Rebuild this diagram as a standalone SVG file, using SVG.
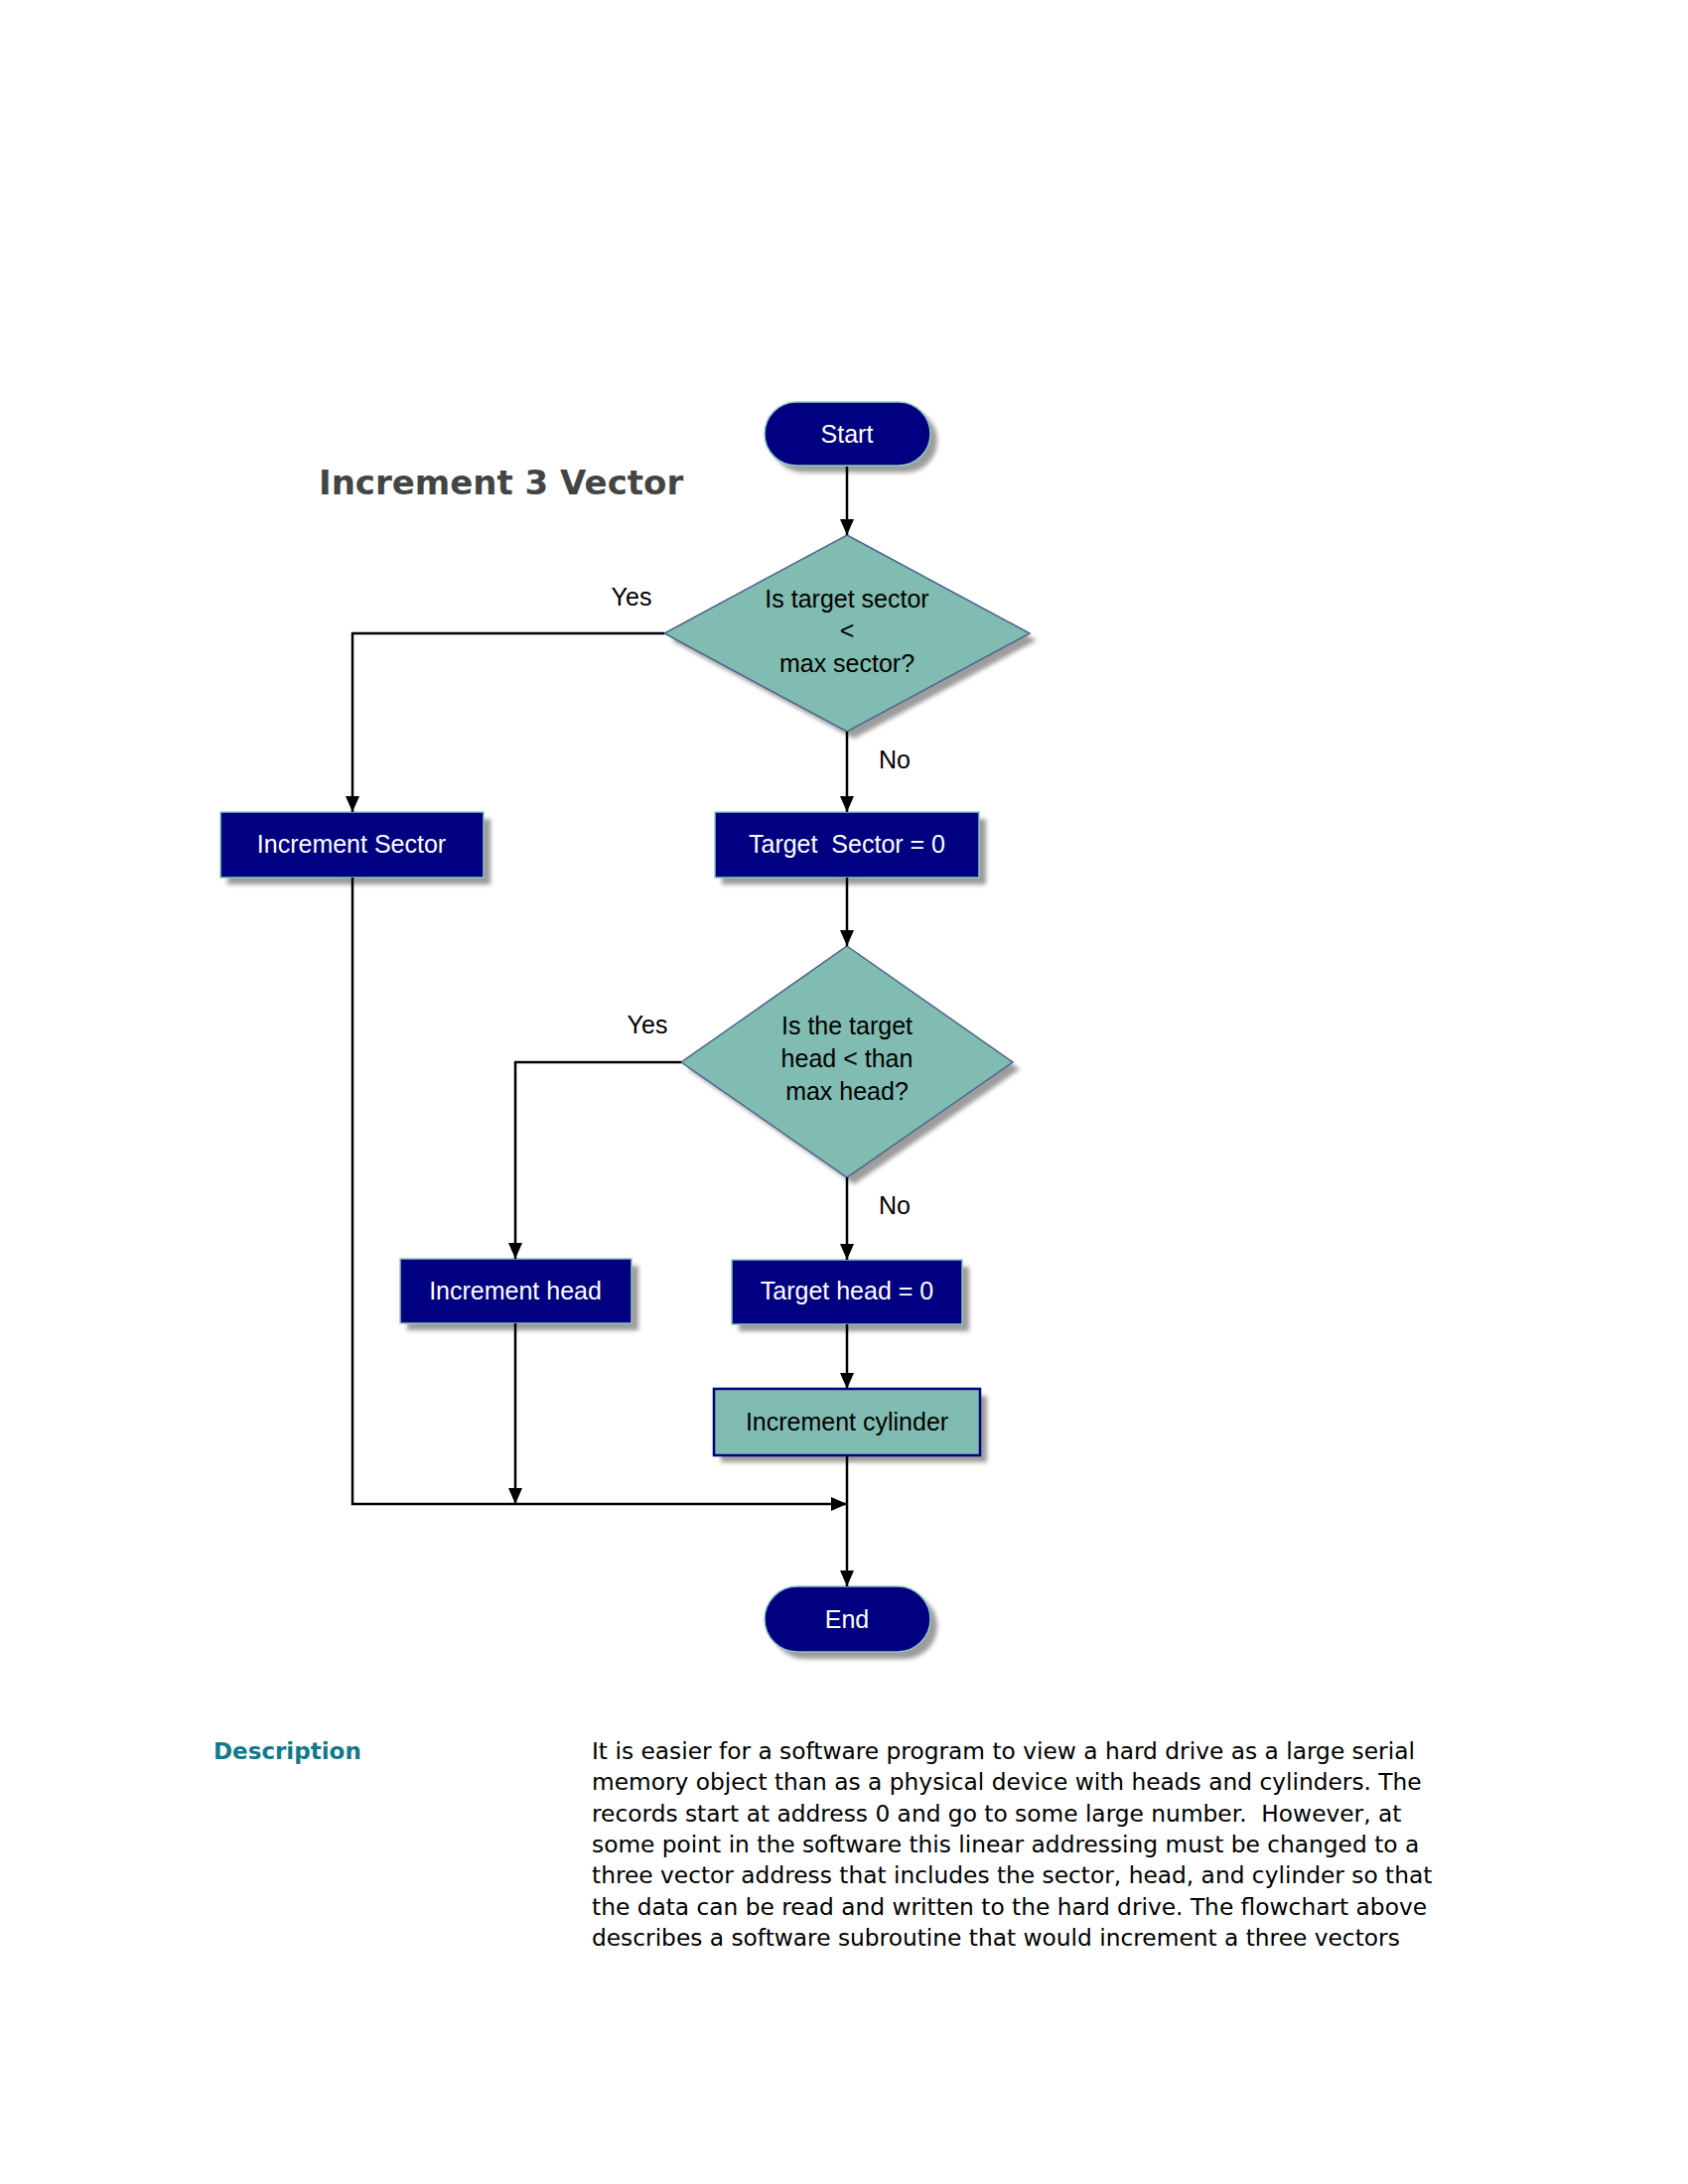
<svg xmlns="http://www.w3.org/2000/svg" width="1700" height="2200" viewBox="0 0 1700 2200">
<defs>
<filter id="blur" x="-10%" y="-10%" width="130%" height="140%"><feGaussianBlur stdDeviation="2.2"/></filter>
<marker id="arr" viewBox="0 0 16 14" refX="16" refY="7" markerWidth="16" markerHeight="14" markerUnits="userSpaceOnUse" orient="auto"><path d="M0,0 L16,7 L0,14 z" fill="#000"/></marker>
</defs>
<style>
.shadow{fill:#9c9c9c;filter:url(#blur)}
.navy{fill:#000080;stroke:#8cc8c0;stroke-width:1.5}
.teal{fill:#80bcb1;stroke:#4d6590;stroke-width:1.5}
.tealbox{fill:#80bcb1;stroke:#00007a;stroke-width:2.5}
.wt{font-family:"Liberation Sans",Arial,sans-serif;font-size:25px;fill:#fff;text-anchor:middle}
.bt{font-family:"Liberation Sans",Arial,sans-serif;font-size:25px;fill:#000;text-anchor:middle}
.lbl{font-family:"Liberation Sans",Arial,sans-serif;font-size:25px;fill:#000;text-anchor:middle}
.conn{fill:none;stroke:#000;stroke-width:2.5}
.para{font-family:"DejaVu Sans",Verdana,sans-serif;font-size:23.3px;fill:#000}
</style>
<rect width="1700" height="2200" fill="#fff"/>

<text x="321" y="498" font-family="DejaVu Sans,Verdana,sans-serif" font-weight="bold" font-size="34" fill="#444">Increment 3 Vector</text>

<g id="start">
<rect class="shadow" x="777" y="412" width="167" height="64" rx="32"/>
<rect class="navy" x="770" y="405" width="167" height="64" rx="32"/>
<text class="wt" x="853" y="446">Start</text>
</g>

<g id="decision1">
<polygon class="shadow" points="860,546 1044,645 860,744 676,645"/>
<polygon class="teal" points="853,539 1037,638 853,737 669,638"/>
<text class="bt" x="853" y="612">Is target sector</text>
<text class="bt" x="853" y="644">&lt;</text>
<text class="bt" x="853" y="677">max sector?</text>
</g>

<g id="incSector">
<rect class="shadow" x="229" y="825" width="265" height="66"/>
<rect class="navy" x="222" y="818" width="265" height="66"/>
<text class="wt" x="354" y="859">Increment Sector</text>
</g>

<g id="targetSector">
<rect class="shadow" x="727" y="825" width="266" height="66"/>
<rect class="navy" x="720" y="818" width="266" height="66"/>
<text class="wt" x="853" y="859">Target&#160; Sector = 0</text>
</g>

<g id="decision2">
<polygon class="shadow" points="860,960 1027,1077 860,1193 693,1077"/>
<polygon class="teal" points="853,953 1020,1070 853,1186 686,1070"/>
<text class="bt" x="853" y="1042">Is the target</text>
<text class="bt" x="853" y="1075">head &lt; than</text>
<text class="bt" x="853" y="1108">max head?</text>
</g>

<g id="incHead">
<rect class="shadow" x="410" y="1275" width="233" height="65"/>
<rect class="navy" x="403" y="1268" width="233" height="65"/>
<text class="wt" x="519" y="1309">Increment head</text>
</g>

<g id="targetHead">
<rect class="shadow" x="744" y="1276" width="232" height="65"/>
<rect class="navy" x="737" y="1269" width="232" height="65"/>
<text class="wt" x="853" y="1309">Target head = 0</text>
</g>

<g id="incCylinder">
<rect class="shadow" x="726" y="1406" width="268" height="67"/>
<rect class="tealbox" x="719" y="1399" width="268" height="67"/>
<text class="bt" x="853" y="1441">Increment cylinder</text>
</g>

<g id="end">
<rect class="shadow" x="777" y="1605" width="167" height="66" rx="33"/>
<rect class="navy" x="770" y="1598" width="167" height="66" rx="33"/>
<text class="wt" x="853" y="1640">End</text>
</g>

<g id="connectors">
<path class="conn" d="M853,470 V539" marker-end="url(#arr)"/>
<path class="conn" d="M669,638 H355 V818" marker-end="url(#arr)"/>
<path class="conn" d="M853,737 V818" marker-end="url(#arr)"/>
<path class="conn" d="M853,884 V953" marker-end="url(#arr)"/>
<path class="conn" d="M686,1070 H519 V1268" marker-end="url(#arr)"/>
<path class="conn" d="M853,1186 V1269" marker-end="url(#arr)"/>
<path class="conn" d="M853,1334 V1399" marker-end="url(#arr)"/>
<path class="conn" d="M853,1466 V1598" marker-end="url(#arr)"/>
<path class="conn" d="M355,884 V1515 H853" marker-end="url(#arr)"/>
<path class="conn" d="M519,1333 V1515" marker-end="url(#arr)"/>
<text class="lbl" x="636" y="610">Yes</text>
<text class="lbl" x="901" y="774">No</text>
<text class="lbl" x="652" y="1041">Yes</text>
<text class="lbl" x="901" y="1223">No</text>
</g>

<g id="description">
<text x="215" y="1772" font-family="DejaVu Sans,Verdana,sans-serif" font-weight="bold" font-size="23" fill="#10798a">Description</text>
<text class="para" x="596" y="1772">It is easier for a software program to view a hard drive as a large serial</text>
<text class="para" x="596" y="1803">memory object than as a physical device with heads and cylinders. The</text>
<text class="para" x="596" y="1835">records start at address 0 and go to some large number.&#160; However, at</text>
<text class="para" x="596" y="1866">some point in the software this linear addressing must be changed to a</text>
<text class="para" x="596" y="1897">three vector address that includes the sector, head, and cylinder so that</text>
<text class="para" x="596" y="1929">the data can be read and written to the hard drive. The flowchart above</text>
<text class="para" x="596" y="1960">describes a software subroutine that would increment a three vectors</text>
</g>
</svg>
